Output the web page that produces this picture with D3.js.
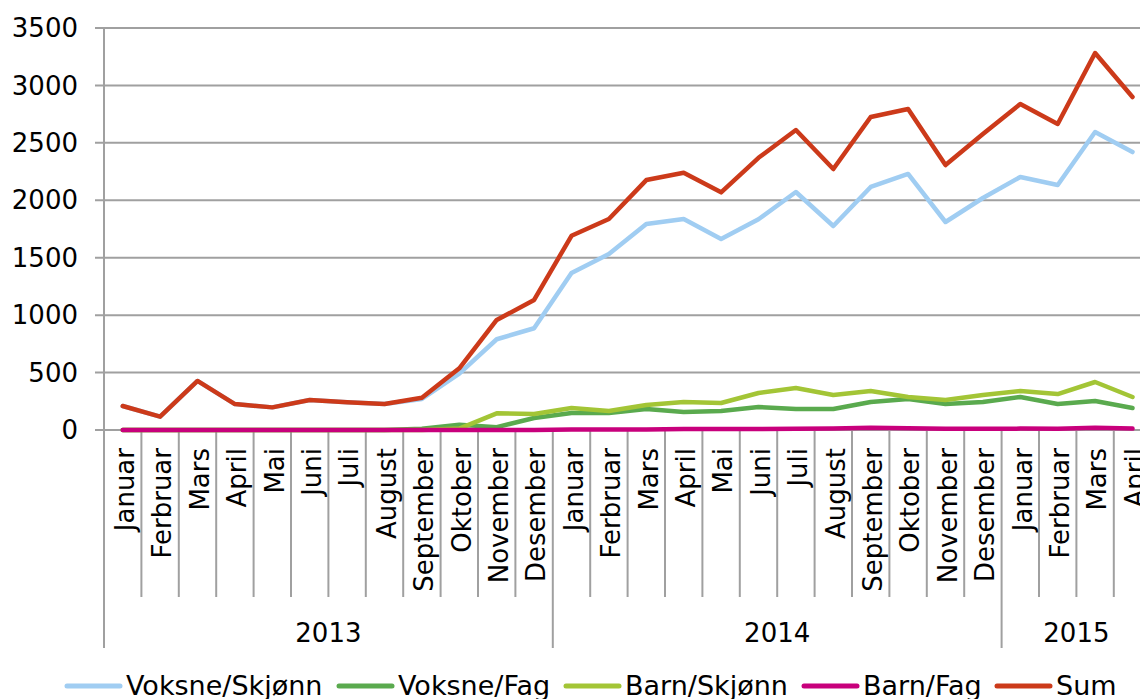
<!DOCTYPE html>
<html>
<head>
<meta charset="utf-8">
<script src="https://cdn.jsdelivr.net/npm/d3@7"></script>
<style>
  body { margin: 0; background: #fff; overflow: hidden; }
  text { font-family: "DejaVu Sans", Verdana, sans-serif; fill: #000; }
</style>
</head>
<body>
<svg id="chart" width="1140" height="699"></svg>
<script>
// months Jan 2013 - Apr 2015
const months = ["Januar","Ferbruar","Mars","April","Mai","Juni","Juli","August","September","Oktober","November","Desember",
  "Januar","Ferbruar","Mars","April","Mai","Juni","Juli","August","September","Oktober","November","Desember",
  "Januar","Ferbruar","Mars","April"];
const years = ["2013","2014","2015"];
const yearStart = [0, 12, 24];
const yearLength = [12, 12, 4];

const seriesNames = ["Voksne/Skjønn","Voksne/Fag","Barn/Skjønn","Barn/Fag","Sum"];
const seriesColors = ["#a0cdf2","#5aaa4e","#a3c536","#c8007c","#cc3a1a"];

const voksneSkjonn = [209,116,427,226,197,261,241,226,270,490,790,886,1367,1532,1793,1837,1663,1835,2072,1776,2116,2229,1811,2020,2203,2133,2594,2420];
const voksneFag    = [0,0,0,0,0,0,0,0,10,45,25,104,148,148,183,157,165,200,183,183,244,270,226,244,287,226,252,191];
const barnSkjonn   = [0,0,0,0,0,0,0,0,0,12,145,139,191,165,218,244,235,322,366,305,340,287,261,305,340,313,418,287];
const barnFag      = [0,0,0,0,0,0,0,0,0,0,0,0,5,5,5,8,8,8,10,12,20,15,10,10,12,10,20,12];
const sum          = [209,116,427,226,197,261,241,226,281,537,958,1132,1691,1837,2176,2240,2069,2370,2612,2272,2725,2795,2307,2577,2838,2664,3282,2899];

const yTicks = [0,500,1000,1500,2000,2500,3000,3500];

const svg = d3.select("#chart");

const x = d3.scaleBand()
  .domain(d3.range(months.length))
  .range([104, 104 + 28 * 37.4])
  .padding(0);
const y = d3.scaleLinear().domain([0, 3500]).range([430, 28]);

const grid = "#a0a0a0";

// horizontal gridlines + ticks
svg.append("g")
  .selectAll("line")
  .data(yTicks)
  .enter()
  .append("line")
  .attr("x1", 95)
  .attr("x2", 1140)
  .attr("y1", d => y(d))
  .attr("y2", d => y(d))
  .attr("stroke", grid)
  .attr("stroke-width", 2);

svg.append("g")
  .selectAll("text")
  .data(yTicks)
  .enter()
  .append("text")
  .attr("x", 78)
  .attr("y", d => y(d))
  .attr("dy", "0.35em")
  .attr("text-anchor", "end")
  .style("font-size", "26px")
  .text(d => d);

// vertical axis line
svg.append("line")
  .attr("x1", 104).attr("x2", 104)
  .attr("y1", y(3500)).attr("y2", 648)
  .attr("stroke", grid).attr("stroke-width", 2);

// month separators
svg.append("g")
  .selectAll("line")
  .data(d3.range(1, months.length + 1))
  .enter()
  .append("line")
  .attr("x1", d => x(0) + d * x.bandwidth())
  .attr("x2", d => x(0) + d * x.bandwidth())
  .attr("y1", 430)
  .attr("y2", d => yearStart.includes(d) ? 648 : 597)
  .attr("stroke", grid)
  .attr("stroke-width", 2);

// month labels
svg.append("g")
  .selectAll("text")
  .data(months)
  .enter()
  .append("text")
  .attr("transform", (d, i) => `translate(${x(i) + x.bandwidth() / 2 + 2},448) rotate(-90)`)
  .attr("dy", "0.36em")
  .attr("text-anchor", "end")
  .style("font-size", "26px")
  .text(d => d);

// year labels
svg.append("g")
  .selectAll("text")
  .data(years)
  .enter()
  .append("text")
  .attr("x", (d, i) => x(0) + (yearStart[i] + yearLength[i] / 2) * x.bandwidth())
  .attr("y", 633)
  .attr("dy", "0.35em")
  .attr("text-anchor", "middle")
  .style("font-size", "26px")
  .text(d => d);

// lines
const allSeries = [voksneSkjonn, voksneFag, barnSkjonn, barnFag, sum];
const line = d3.line()
  .x((d, i) => x(i) + x.bandwidth() / 2)
  .y(d => y(d));

svg.append("g")
  .selectAll("path")
  .data(allSeries)
  .enter()
  .append("path")
  .attr("d", line)
  .attr("fill", "none")
  .attr("stroke", (d, i) => seriesColors[i])
  .attr("stroke-width", 4.5)
  .attr("stroke-linejoin", "round")
  .attr("stroke-linecap", "round");

// legend
const legendX = [67, 339, 566, 804, 997];
const legend = svg.append("g")
  .selectAll("g")
  .data(seriesNames)
  .enter()
  .append("g")
  .attr("transform", (d, i) => `translate(${legendX[i]},686)`);

legend.append("line")
  .attr("x1", 0).attr("x2", 53)
  .attr("stroke", (d, i) => seriesColors[i])
  .attr("stroke-width", 5)
  .attr("stroke-linecap", "round");

legend.append("text")
  .attr("x", 59)
  .attr("dy", "0.35em")
  .style("font-size", "27px")
  .text(d => d);
</script>
</body>
</html>
